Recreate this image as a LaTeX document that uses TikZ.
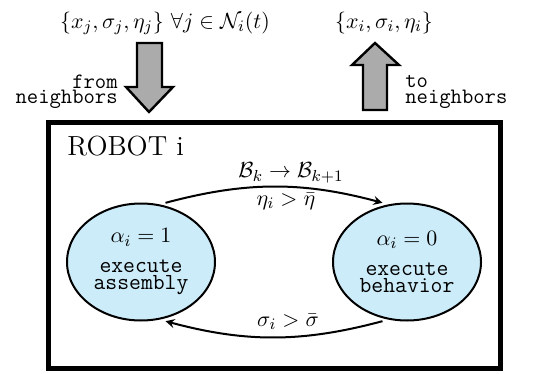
\documentclass[tikz,border=0pt]{standalone}
\usepackage{amsmath,amssymb}
\usetikzlibrary{shapes.geometric}

\definecolor{statefill}{RGB}{204,236,249}
\newcommand{\ttsmall}{\fontsize{11}{7.6}\selectfont\ttfamily}
\newcommand{\ttstate}{\fontsize{11.5}{8.5}\selectfont\ttfamily}
\newcommand{\mathlbl}{\fontsize{10.8}{13}\selectfont}

\tikzset{
  state/.style={ellipse, draw, line width=1pt, fill=statefill, font=\ttstate,
    minimum width=74pt, minimum height=58.5pt, inner sep=1pt, align=center},
  blockarrow/.style={draw, line width=1.2pt, fill=black!33, line join=miter},
  transition/.style={->, line width=1pt, shorten <=3pt, shorten >=3pt},
  lbl/.style={font=\mathlbl},
}

\begin{document}
\begin{tikzpicture}[>=stealth, x=0.5pt, y=0.5pt]
\useasboundingbox (0,0) rectangle (545,-374);

% messages
\node[lbl] (inmsg) at (165,-23) {$\{x_j,\sigma_j,\eta_j\}\ \forall j\in\mathcal{N}_i(t)$};
\node[lbl] (outmsg) at (384,-23) {$\{x_i,\sigma_i,\eta_i\}$};

% big arrows
\draw[blockarrow] (137,-43) -- (162,-43) -- (162,-87) -- (173,-87) -- (149,-112)
  -- (126,-87) -- (137,-87) -- cycle;
\draw[blockarrow] (363,-110) -- (387,-110) -- (387,-65) -- (399,-65) -- (375,-43)
  -- (352,-65) -- (363,-65) -- cycle;
\node[anchor=east, align=right, inner sep=0pt, font=\ttsmall] (from) at (118,-92) {from\\neighbors};
\node[anchor=west, align=left, inner sep=0pt, font=\ttsmall] (to) at (405,-92) {to\\neighbors};

% robot
\node[draw, line width=2.5pt, minimum width=226pt, minimum height=123pt] (robot) at (274,-245) {};
\node[anchor=west, inner sep=0pt, font=\fontsize{13.8}{16}\selectfont] (title) at (67,-146) {ROBOT i};

\node[state] (asm) at (141,-262) {\fontsize{11}{8.5}\selectfont$\alpha_i=1$\\[6.5pt]execute\\assembly};
\node[state] (beh) at (407,-262) {\fontsize{11}{8.5}\selectfont$\alpha_i=0$\\[6.5pt]execute\\behavior};

\draw[transition] (asm.72) to[bend left=15]
  node[lbl, above, inner sep=1.5pt, xshift=8.5pt] {$\mathcal{B}_k\rightarrow\mathcal{B}_{k+1}$}
  node[lbl, below, inner sep=2.5pt, xshift=6pt] {$\eta_i>\bar{\eta}$} (beh.108);
\draw[transition] (beh.-108) to[bend left=15]
  node[lbl, above, inner sep=3pt, xshift=7pt] {$\sigma_i>\bar{\sigma}$} (asm.-72);
\end{tikzpicture}
\end{document}
